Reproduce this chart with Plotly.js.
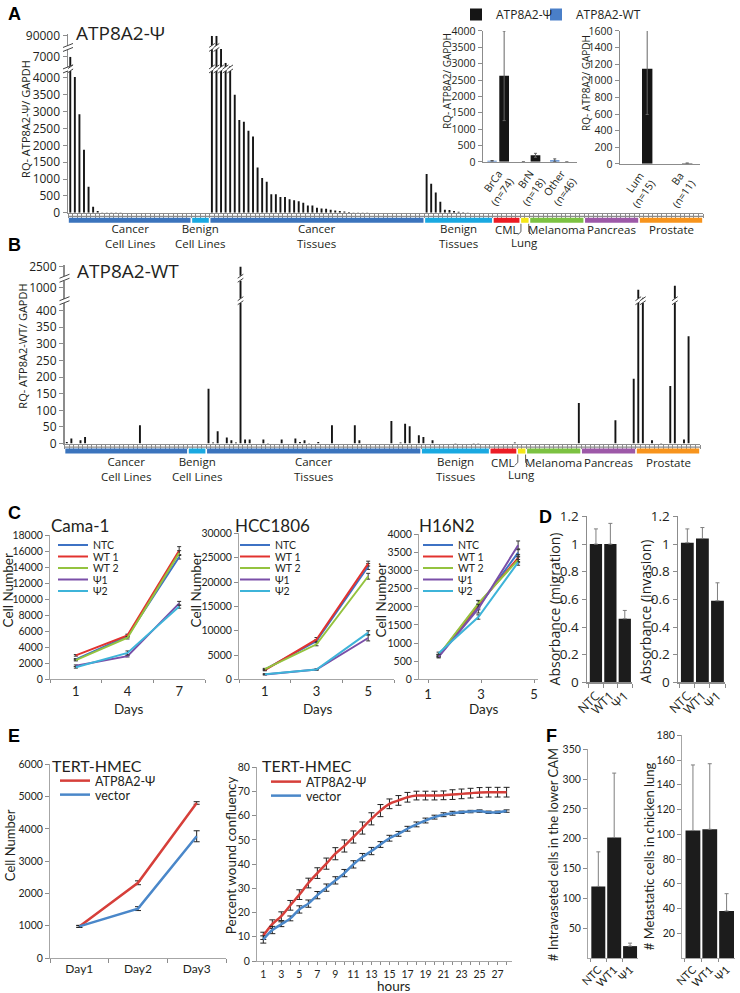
<!DOCTYPE html>
<html><head><meta charset="utf-8">
<script src="https://cdn.plot.ly/plotly-3.0.1.min.js"></script>
<style>html,body{margin:0;padding:0;background:#fff;}#chart{width:740px;height:993px;}</style>
</head><body><div id="chart"></div>
<script>
// ===== Panels A/B : per-sample expression, grouped by sample type =====
const groupNames = ['Cancer<br>Cell Lines','Benign<br>Cell Lines','Cancer<br>Tissues','Benign<br>Tissues','CML','Lung','Melanoma','Pancreas','Prostate'];
const groupColors = ['#3b74bd','#1aa9e1','#3b74bd','#1aa9e1','#ec1c24','#f5e617','#7cc242','#9d59a8','#f7941d'];

// ATP8A2-Psi (panel A)
const psiCancerCellLines = [7000,4030,2920,1870,770,180,50,10,8,6,5,5,4,4,3,3,3,2,2,2,2,2,1,1,1,1,1];
const psiBenignCellLines = [2,1,1,2];
const psiCancerTissues = [90000,90000,8200,6100,5600,3500,2750,2700,2430,2260,1340,1030,920,550,550,465,465,405,375,345,295,215,215,150,130,120,90,70,50,40,20,10,8,5,5,4,3,3,2,2,2,2,1,1,1,1,1];
const psiBenignTissues = [1150,860,600,330,90,80,50,30,15,5,2,1,1,1,1];
const psiCML = [1,1,1,1,1,1];
const psiLung = [1,1];
const psiMelanoma = [1,1,1,1,1,1,1,1,1,1,1,1];
const psiPancreas = [1,1,1,1,1,1,1,1,1,1,1,1];
const psiProstate = [1,1,1,1,1,1,1,1,1,1,1,1,1,1];

// ATP8A2-WT (panel B)
const wtCancerCellLines = [5,15,0,10,20,0,0,0,0,0,0,0,0,0,0,0,55,0,0,0,0,0,0,0,0,0,0];
const wtBenignCellLines = [0,0,0,0];
const wtCancerTissues = [165,3,37,0,18,10,3,2500,12,12,0,0,12,2,0,0,12,0,0,15,5,10,2,0,5,0,0,55,0,0,0,0,55,10,0,0,0,0,0,0,68,0,3,60,52,0,25];
const wtBenignTissues = [20,0,10,0,0,0,0,2,0,0,0,2,2,0,0];
const wtCML = [0,0,0,0,0,3];
const wtLung = [0,0];
const wtMelanoma = [0,0,0,0,0,0,0,0,0,0,0,122];
const wtPancreas = [0,0,0,0,0,0,0,70,0,0,0,195];
const wtProstate = [900,500,0,10,0,2,0,173,1100,0,12,323,0,0];

// Panel A insets
const insetCats1 = ['BrCa<br>(n=74)','BrN<br>(n=18)','Other<br>(n=46)'];
const insetWT1 = [30,0,50];
const insetWT1Err = [10,0,40];
const insetPsi1 = [2630,200,0];
const insetPsi1Err = [1370,60,0];
const insetCats2 = ['Lum<br>(n=15)','Ba<br>(n=11)'];
const insetWT2 = [0,0];
const insetPsi2 = [1145,8];
const insetPsi2Err = [550,0];

// ===== Panel C : growth curves =====
const cNames = ['NTC','WT 1','WT 2','Ψ1','Ψ2'];
const cColors = ['#3d72c4','#e2332f','#94c33f','#7a4fa8','#3eb4d9'];
const camaDays = ['1','4','7'];
const camaNTC = [2500,5400,15300], camaWT1 = [3000,5500,16100], camaWT2 = [2400,5200,15800], camaPsi1 = [1700,2900,9500], camaPsi2 = [1500,3300,9100];
const camaErr = [[100,150,250],[100,150,500],[100,150,300],[100,100,250],[100,250,200]];
const hccDays = ['1','3','5'];
const hccNTC = [2000,7900,23200], hccWT1 = [1900,8200,23800], hccWT2 = [2100,7200,21200], hccPsi1 = [1000,2000,8500], hccPsi2 = [1050,2000,9600];
const hccErr = [[150,300,600],[150,400,500],[150,300,600],[100,100,600],[100,100,400]];
const h16Days = [1.4,2.9,4.4];
const h16NTC = [640,2000,3500], h16WT1 = [650,2070,3350], h16WT2 = [660,2100,3300], h16Psi1 = [620,1950,3700], h16Psi2 = [720,1720,3230];
const h16Err = [[30,80,100],[30,100,100],[30,80,80],[30,120,120],[30,60,80]];

// ===== Panel D : migration / invasion =====
const dCats = ['NTC','WT1','Ψ1'];
const migration = [1.0,1.0,0.46], migrationErr = [0.11,0.15,0.06];
const invasion = [1.01,1.04,0.59], invasionErr = [0.10,0.08,0.13];

// ===== Panel E =====
const eDays = ['Day1','Day2','Day3'];
const e1Psi = [980,2330,4800], e1PsiErr = [30,60,40];
const e1Vec = [980,1530,3770], e1VecErr = [30,60,170];
const hours = [1,2,3,4,5,6,7,8,9,10,11,12,13,14,15,16,17,18,19,20,21,22,23,24,25,26,27,28];
const e2Psi = [10.4,15.2,18.5,23.0,27.4,32.2,36.3,40.2,44.3,47.5,51.2,54.9,58.7,62.1,64.9,66.3,67.6,68.3,68.3,68.3,68.4,68.7,69.0,69.3,69.6,69.7,69.7,69.7];
const e2PsiErr = [1.5,1.8,1.8,2,2,2,2.2,2.3,2.5,2.5,2.5,2.5,2.5,2.5,2,2,2,1.8,1.8,1.8,1.8,2,2,2,2,2,2,2];
const e2Vec = [8.9,12.8,15.2,17.6,21.3,23.7,27.2,30.3,33.3,36.3,39.9,42.9,45.4,48.1,50.7,52.5,54.6,56.4,58.0,59.4,60.4,61.0,61.4,61.7,61.9,61.4,61.4,61.9];
const e2VecErr = [1.5,1.5,1,1,1.5,1.5,1.5,1.5,1.5,1.5,1.5,1.5,1.5,1.2,1.2,1,1,1,1,0.8,0.8,0.8,0.5,0.5,0.5,0.5,0.5,0.5];

// ===== Panel F =====
const fCats = ['NTC','WT1','Ψ1'];
const cam = [120,202,20], camErr = [58,108,5];
const lungMet = [103,104,38], lungMetErr = [53,53,14];

// ---------------------------------------------------------------
const W=740, H=993;
const px = v => v/W, py = v => 1 - v/H;
const X = (a,b) => [a/W, b/W];
const Y = (top,bot) => [1-bot/H, 1-top/H];
const FM = 'Open Sans, Noto Sans, sans-serif';
const FC = 'Lato, Noto Sans, sans-serif';
const TXT = '#231f20';
const GREY = '#8c8c8c';
function axis(o){ return Object.assign({showgrid:false, zeroline:false, showline:true, linecolor:GREY, linewidth:1.5, ticks:'outside', ticklen:4, tickwidth:1, tickcolor:GREY, fixedrange:true, tickfont:{family:FM,size:12,color:TXT}}, o); }
function range(a,b,s){ const r=[]; for(let v=a; v<=b+1e-9; v+=s) r.push(+v.toFixed(6)); return r; }

const psi = [].concat(psiCancerCellLines,psiBenignCellLines,psiCancerTissues,psiBenignTissues,psiCML,psiLung,psiMelanoma,psiPancreas,psiProstate);
const wt = [].concat(wtCancerCellLines,wtBenignCellLines,wtCancerTissues,wtBenignTissues,wtCML,wtLung,wtMelanoma,wtPancreas,wtProstate);
const groupSizes = [psiCancerCellLines,psiBenignCellLines,psiCancerTissues,psiBenignTissues,psiCML,psiLung,psiMelanoma,psiPancreas,psiProstate].map(a=>a.length);
const N = psi.length;
const idx = psi.map((_,i)=>i);

const traces = [];
const shapes = [];
const annotations = [];
const legends = {};
let legCount = 0;
function addLegend(tr, xpx, ypx, font){
  legCount++; const id = legCount===1 ? 'legend' : 'legend'+legCount;
  tr.legend = id; tr.showlegend = true;
  legends[id] = {x:px(xpx), y:py(ypx), xanchor:'left', yanchor:'middle', bgcolor:'rgba(0,0,0,0)', borderwidth:0, font:font, itemwidth:30};
}
function txt(text, x, y, o){ return Object.assign({text, x:px(x), y:py(y), xref:'paper', yref:'paper', showarrow:false, xanchor:'center', yanchor:'middle', font:{family:FM,size:12,color:TXT}}, o||{}); }

function breakMark(xref, xl, xr, yc){
  const g=2, s=2, yb=yc+g, yt=yc-g;
  shapes.push({type:'path', xref, yref:'paper', path:`M${xl},${py(yb+s)} L${xr},${py(yb-s)} L${xr},${py(yt-s)} L${xl},${py(yt+s)} Z`, fillcolor:'white', line:{width:0}, layer:'above'});
  shapes.push({type:'line', xref, yref:'paper', x0:xl, y0:py(yb+s), x1:xr, y1:py(yb-s), line:{color:'#444',width:1}, layer:'above'});
  shapes.push({type:'line', xref, yref:'paper', x0:xl, y0:py(yt+s), x1:xr, y1:py(yt-s), line:{color:'#444',width:1}, layer:'above'});
}

// ---------- Panel A main ----------
['y','y2','y3'].forEach(ya => traces.push({type:'bar', x:idx, y:psi, xaxis:'x', yaxis:ya, width:0.42, marker:{color:'#151515'}, showlegend:false, hoverinfo:'skip'}));
// ---------- Panel B main ----------
['y6','y7','y8'].forEach(ya => traces.push({type:'bar', x:idx, y:wt, xaxis:'x4', yaxis:ya, width:0.42, marker:{color:'#151515'}, showlegend:false, hoverinfo:'skip'}));

// group colour strips + labels
function groupStrip(xref, yTop, yBot, yLab1, yLabLung, ladderY, xl, xr){
  shapes.push({type:'line', xref:'paper', yref:'paper', x0:px(xl), x1:px(xr), y0:py(ladderY), y1:py(ladderY), line:{color:GREY,width:1.2}});
  let start = 0;
  groupSizes.forEach((n,g)=>{
    const s = start, e = start+n-1; start += n;
    shapes.push({type:'rect', xref, yref:'paper', x0:s-0.5+0.18, x1:e+0.5-0.18, y0:py(yBot), y1:py(yTop), fillcolor:groupColors[g], line:{width:0}});
    const name = groupNames[g];
    const two = name.indexOf('<br>')>=0;
    const base = {xref, yref:'paper', showarrow:false, xanchor:'center', yanchor:'middle', font:{family:FM,size:11.5,color:TXT}};
    if (name === 'Lung'){
      annotations.push(Object.assign({text:name, x:(s+e)/2, y:py(yLabLung)}, base));
      const a = s-0.35, b = e+0.35;
      shapes.push({type:'path', xref, yref:'paper', path:`M${a},${py(yBot+1)} L${a},${py(yBot+9)} L${a-0.7},${py(yBot+12)}`, line:{color:'#333',width:0.8}});
      shapes.push({type:'path', xref, yref:'paper', path:`M${b},${py(yBot+1)} L${b},${py(yBot+9)} L${b+0.7},${py(yBot+12)}`, line:{color:'#333',width:0.8}});
    } else {
      annotations.push(Object.assign({text:name, x:(s+e)/2, y:py(two ? (yLab1+yLabLung)/2 : yLab1)}, base));
    }
  });
}
groupStrip('x', 217, 222, 229, 242, 215.5, 68, 703);
groupStrip('x4', 448, 453, 462, 474, 446.5, 64.5, 700);

// break marks on axes and bars
breakMark('paper', px(63), px(73), 68);
breakMark('paper', px(63), px(73), 46.5);
breakMark('paper', px(59.5), px(69.5), 300);
breakMark('paper', px(59.5), px(69.5), 277.5);
psi.forEach((v,i)=>{ if (v>4207) breakMark('x', i-0.62, i+0.62, 68); if (v>8200) breakMark('x', i-0.62, i+0.62, 46.5); });
wt.forEach((v,i)=>{ if (v>424) breakMark('x4', i-0.62, i+0.62, 300); if (v>1350) breakMark('x4', i-0.62, i+0.62, 277.5); });

// ---------- Panel A insets ----------
const tWT1 = {type:'bar', name:'ATP8A2-WT', x:insetCats1, y:insetWT1, xaxis:'x2', yaxis:'y4', width:0.3, offset:-0.36, marker:{color:'#4a7fc8'}, error_y:{type:'data', array:insetWT1Err, color:'#555', thickness:1, width:1.5}, hoverinfo:'skip'};
const tPsi1 = {type:'bar', name:'ATP8A2-Ψ', x:insetCats1, y:insetPsi1, xaxis:'x2', yaxis:'y4', width:0.31, offset:0.02, marker:{color:'#151515'}, error_y:{type:'data', array:insetPsi1Err, color:'#666', thickness:1, width:1.5}, hoverinfo:'skip'};
const tWT2 = {type:'bar', name:'ATP8A2-WT', x:insetCats2, y:insetWT2, xaxis:'x3', yaxis:'y5', width:0.25, offset:-0.3, marker:{color:'#4a7fc8'}, showlegend:false, hoverinfo:'skip'};
const tPsi2 = {type:'bar', name:'ATP8A2-Ψ', x:insetCats2, y:insetPsi2, xaxis:'x3', yaxis:'y5', width:0.26, offset:0.05, marker:{color:'#151515'}, error_y:{type:'data', array:insetPsi2Err, color:'#666', thickness:1, width:1.5}, showlegend:false, hoverinfo:'skip'};
traces.push(tWT1, tPsi1, tWT2, tPsi2);

// ---------- Panel C ----------
function cTrace(xs, ys, err, k, xa, ya){ return {type:'scatter', mode:'lines', x:xs, y:ys, name:cNames[k], xaxis:xa, yaxis:ya, line:{color:cColors[k], width:2}, error_y:{type:'data', array:err, color:'#333', thickness:1, width:2}, hoverinfo:'skip'}; }
const legY = [545,556.5,568,579.5,591];
const cFont = {family:FC, size:10.5, color:TXT};
[camaNTC,camaWT1,camaWT2,camaPsi1,camaPsi2].forEach((ys,k)=>{ const t=cTrace(camaDays, ys, camaErr[k], k, 'x5','y9'); addLegend(t, 53, legY[k], cFont); traces.push(t); });
[hccNTC,hccWT1,hccWT2,hccPsi1,hccPsi2].forEach((ys,k)=>{ const t=cTrace(hccDays, ys, hccErr[k], k, 'x6','y10'); addLegend(t, 235, legY[k], cFont); traces.push(t); });
[h16NTC,h16WT1,h16WT2,h16Psi1,h16Psi2].forEach((ys,k)=>{ const t=cTrace(h16Days, ys, h16Err[k], k, 'x7','y11'); addLegend(t, 418, legY[k], cFont); traces.push(t); });

// ---------- Panel D ----------
const upErr = (arr,c)=>({type:'data', symmetric:false, array:arr, arrayminus:arr.map(()=>0), color:c||'#7f7f7f', thickness:1, width:2});
traces.push({type:'bar', x:dCats, y:migration, xaxis:'x8', yaxis:'y12', width:0.85, marker:{color:'#1c1c1c'}, error_y:upErr(migrationErr), showlegend:false, hoverinfo:'skip'});
traces.push({type:'bar', x:dCats, y:invasion, xaxis:'x9', yaxis:'y13', width:0.85, marker:{color:'#1c1c1c'}, error_y:upErr(invasionErr), showlegend:false, hoverinfo:'skip'});

// ---------- Panel E ----------
const eRed = '#d63f3a', eBlue = '#4a87c9';
const eFont = {family:FC, size:12.5, color:TXT};
let t;
t = {type:'scatter', mode:'lines', name:'ATP8A2-Ψ', x:eDays, y:e1Psi, xaxis:'x10', yaxis:'y14', line:{color:eRed,width:2.5}, error_y:{type:'data', array:e1PsiErr, color:'#222', thickness:1, width:3}, hoverinfo:'skip'}; addLegend(t, 55, 781, eFont); traces.push(t);
t = {type:'scatter', mode:'lines', name:'vector', x:eDays, y:e1Vec, xaxis:'x10', yaxis:'y14', line:{color:eBlue,width:2.5}, error_y:{type:'data', array:e1VecErr, color:'#222', thickness:1, width:3}, hoverinfo:'skip'}; addLegend(t, 55, 795, eFont); traces.push(t);
t = {type:'scatter', mode:'lines', name:'ATP8A2-Ψ', x:hours, y:e2Psi, xaxis:'x11', yaxis:'y15', line:{color:eRed,width:2.5,shape:'spline'}, error_y:{type:'data', array:e2PsiErr, color:'#222', thickness:1, width:3}, hoverinfo:'skip'}; addLegend(t, 266, 782, eFont); traces.push(t);
t = {type:'scatter', mode:'lines', name:'vector', x:hours, y:e2Vec, xaxis:'x11', yaxis:'y15', line:{color:eBlue,width:2.5,shape:'spline'}, error_y:{type:'data', array:e2VecErr, color:'#222', thickness:1, width:3}, hoverinfo:'skip'}; addLegend(t, 266, 796, eFont); traces.push(t);

// ---------- Panel F ----------
traces.push({type:'bar', x:fCats, y:cam, xaxis:'x12', yaxis:'y16', width:0.88, marker:{color:'#1c1c1c'}, error_y:upErr(camErr), showlegend:false, hoverinfo:'skip'});
traces.push({type:'bar', x:fCats, y:lungMet, xaxis:'x13', yaxis:'y17', width:0.88, marker:{color:'#1c1c1c'}, error_y:upErr(lungMetErr), showlegend:false, hoverinfo:'skip'});

// inset legend
const iFont = {family:FM, size:12, color:TXT};
addLegend(tPsi1, 456, 14, iFont);
addLegend(tWT1, 536, 14, iFont);

// ---------- Axes ----------
const yA = {family:FM,size:12,color:TXT};
const cY = {family:FC,size:10.5,color:TXT};
const layout = {
  width:W, height:H, margin:{l:0,r:0,t:0,b:0}, paper_bgcolor:'#fff', plot_bgcolor:'rgba(0,0,0,0)', showlegend:true, barmode:'overlay',
  // A main
  xaxis: axis({domain:X(68,703), range:[-0.5,N-0.5], anchor:'y', tickmode:'linear', tick0:-0.5, dtick:1, showticklabels:false, ticklen:3.5}),
  yaxis: axis({domain:Y(70,212), range:[0,4207], anchor:'x', tickmode:'array', tickvals:range(0,4000,500), tickformat:'d', tickfont:yA}),
  yaxis2: axis({domain:Y(48,66), range:[5500,8200], anchor:'x', tickmode:'array', tickvals:[7000], tickformat:'d', tickfont:yA}),
  yaxis3: axis({domain:Y(33,45), range:[85000,91000], anchor:'x', tickmode:'array', tickvals:[90000], tickformat:'d', tickfont:yA}),
  // A insets
  xaxis2: axis({domain:X(483,577), type:'category', range:[-0.5,2.5], anchor:'y4', tickangle:-55, ticks:'', tickfont:{family:FM,size:10.5,color:TXT}}),
  yaxis4: axis({domain:Y(30,161), range:[0,4000], anchor:'x2', tickmode:'array', tickvals:range(0,4000,500), tickformat:'d', tickfont:{family:FM,size:10.5,color:TXT}}),
  xaxis3: axis({domain:X(620,700), type:'category', range:[-0.5,1.5], anchor:'y5', tickangle:-55, ticks:'', tickfont:{family:FM,size:10.5,color:TXT}}),
  yaxis5: axis({domain:Y(30,163), range:[0,1600], anchor:'x3', tickmode:'array', tickvals:range(0,1600,200), tickformat:'d', tickfont:{family:FM,size:10.5,color:TXT}}),
  // B main
  xaxis4: axis({domain:X(64.5,700), range:[-0.5,N-0.5], anchor:'y6', tickmode:'linear', tick0:-0.5, dtick:1, showticklabels:false, ticklen:3.5}),
  yaxis6: axis({domain:Y(302,443), range:[0,424], anchor:'x4', tickmode:'array', tickvals:range(0,400,50), tickformat:'d', tickfont:yA}),
  yaxis7: axis({domain:Y(280,298), range:[450,1350], anchor:'x4', tickmode:'array', tickvals:[1000], tickformat:'d', tickfont:yA}),
  yaxis8: axis({domain:Y(264,275), range:[2320,2540], anchor:'x4', tickmode:'array', tickvals:[2500], tickformat:'d', tickfont:yA}),
  // C
  xaxis5: axis({domain:X(50,205), type:'category', range:[-0.5,2.5], anchor:'y9', tickson:'boundaries', ticklen:3, linecolor:'#a6a6a6', linewidth:1, tickfont:{family:FC,size:13,color:TXT}}),
  yaxis9: axis({domain:Y(535,679), range:[0,18000], anchor:'x5', dtick:2000, tickformat:'d', linecolor:'#a6a6a6', linewidth:1, tickfont:cY}),
  xaxis6: axis({domain:X(239,394), type:'category', range:[-0.5,2.5], anchor:'y10', tickson:'boundaries', ticklen:3, linecolor:'#a6a6a6', linewidth:1, tickfont:{family:FC,size:13,color:TXT}}),
  yaxis10: axis({domain:Y(533,679), range:[0,30000], anchor:'x6', dtick:5000, tickformat:'d', linecolor:'#a6a6a6', linewidth:1, tickfont:cY}),
  xaxis7: axis({domain:X(419,538), range:[0.66,5.15], anchor:'y11', tickmode:'array', tickvals:[1,3,5], ticklen:3, linecolor:'#a6a6a6', linewidth:1, tickfont:{family:FC,size:13,color:TXT}}),
  yaxis11: axis({domain:Y(534,679), range:[0,4000], anchor:'x7', dtick:500, tickformat:'d', linecolor:'#a6a6a6', linewidth:1, tickfont:cY}),
  // D
  xaxis8: axis({domain:X(587,632), type:'category', range:[-0.62,2.5], anchor:'y12', tickmode:'array', tickvals:dCats, tickson:'boundaries', tickangle:-45, tickfont:{family:FM,size:12.5,color:TXT}}),
  yaxis12: axis({domain:Y(516,682), range:[0,1.2], anchor:'x8', dtick:0.2, tickfont:{family:FM,size:13.5,color:TXT}}),
  xaxis9: axis({domain:X(678,725), type:'category', range:[-0.62,2.5], anchor:'y13', tickmode:'array', tickvals:dCats, tickson:'boundaries', tickangle:-45, tickfont:{family:FM,size:12.5,color:TXT}}),
  yaxis13: axis({domain:Y(516,682), range:[0,1.2], anchor:'x9', dtick:0.2, tickfont:{family:FM,size:13.5,color:TXT}}),
  // E
  xaxis10: axis({domain:X(50,226), type:'category', range:[-0.5,2.5], anchor:'y14', tickson:'boundaries', linecolor:'#a6a6a6', linewidth:1, tickfont:{family:FC,size:12,color:TXT}}),
  yaxis14: axis({domain:Y(764,958), range:[0,6000], anchor:'x10', dtick:1000, tickformat:'d', linecolor:'#a6a6a6', linewidth:1, tickfont:{family:FC,size:10.5,color:TXT}}),
  xaxis11: axis({domain:X(257,512), range:[0.3,28.6], anchor:'y15', tickmode:'array', tickvals:hours, ticktext:hours.map(h=>h%2?String(h):''), ticklen:3, linecolor:'#a6a6a6', linewidth:1, tickfont:{family:FC,size:10.5,color:TXT}}),
  yaxis15: axis({domain:Y(767,961), range:[0,80], anchor:'x11', dtick:10, linecolor:'#a6a6a6', linewidth:1, tickfont:{family:FC,size:10.5,color:TXT}}),
  // F
  xaxis12: axis({domain:X(588,638), type:'category', range:[-0.65,2.5], anchor:'y16', tickmode:'array', tickvals:fCats, tickson:'boundaries', tickangle:-45, ticklen:3, linecolor:'#a6a6a6', linewidth:1, tickfont:{family:FC,size:11,color:TXT}}),
  yaxis16: axis({domain:Y(749,958), range:[0,350], anchor:'x12', tickmode:'array', tickvals:range(50,350,50), linecolor:'#a6a6a6', linewidth:1, tickfont:{family:FC,size:10.5,color:TXT}}),
  xaxis13: axis({domain:X(682,735), type:'category', range:[-0.65,2.5], anchor:'y17', tickmode:'array', tickvals:fCats, tickson:'boundaries', tickangle:-45, ticklen:3, linecolor:'#a6a6a6', linewidth:1, tickfont:{family:FC,size:11,color:TXT}}),
  yaxis17: axis({domain:Y(735,958), range:[0,180], anchor:'x13', tickmode:'array', tickvals:range(20,180,20), linecolor:'#a6a6a6', linewidth:1, tickfont:{family:FC,size:10.5,color:TXT}}),
};
Object.assign(layout, legends);

// ---------- Text ----------
const LF = {family:'Liberation Sans, Arial, sans-serif', size:18, color:'#000'};
[['A',14,13],['B',14,244],['C',14,513],['D',545,517],['E',14,736],['F',551,736]].forEach(([l,x,y])=>annotations.push(txt('<b>'+l+'</b>',x,y,{font:LF})));
annotations.push(txt('ATP8A2-Ψ',120,32,{font:{family:FM,size:19,color:TXT}}));
annotations.push(txt('ATP8A2-WT',128,270,{font:{family:FM,size:19,color:TXT}}));
annotations.push(txt('RQ- ATP8A2-Ψ/ GAPDH',26,118,{textangle:-90,font:{family:FM,size:11,color:TXT}}));
annotations.push(txt('RQ- ATP8A2-WT/ GAPDH',23,346,{textangle:-90,font:{family:FM,size:11,color:TXT}}));
annotations.push(txt('RQ- ATP8A2/ GAPDH',447,80,{textangle:-90,font:{family:FM,size:10,color:TXT}}));
annotations.push(txt('RQ- ATP8A2/ GAPDH',586,82,{textangle:-90,font:{family:FM,size:10,color:TXT}}));
annotations.push(txt('Cama-1',80,525,{font:{family:FC,size:17,color:TXT}}));
annotations.push(txt('HCC1806',272,525,{font:{family:FC,size:17,color:TXT}}));
annotations.push(txt('H16N2',447,525,{font:{family:FC,size:17,color:TXT}}));
[[8,590],[196,590],[381,600]].forEach(([x,y])=>annotations.push(txt('Cell Number',x,y,{textangle:-90,font:{family:FC,size:13.5,color:TXT}})));
[[128,709],[317,709],[483,709]].forEach(([x,y])=>annotations.push(txt('Days',x,y,{font:{family:FC,size:13.5,color:TXT}})));
annotations.push(txt('Absorbance (migration)',554,609,{textangle:-90,font:{family:FM,size:14,color:TXT}}));
annotations.push(txt('Absorbance (invasion)',645,611,{textangle:-90,font:{family:FM,size:14,color:TXT}}));
annotations.push(txt('TERT-HMEC',97,765,{font:{family:FC,size:16,color:TXT}}));
annotations.push(txt('TERT-HMEC',307,765,{font:{family:FC,size:16,color:TXT}}));
annotations.push(txt('Cell Number',10,845,{textangle:-90,font:{family:FC,size:13,color:TXT}}));
annotations.push(txt('Percent wound confluency',231,855,{textangle:-90,font:{family:FC,size:13.5,color:TXT}}));
annotations.push(txt('hours',394,986,{font:{family:FC,size:13.5,color:TXT}}));
annotations.push(txt('# Intravaseted cells in the lower CAM',553,855,{textangle:-90,font:{family:FC,size:13,color:TXT}}));
annotations.push(txt('# Metastatic cells in chicken lung',649,856,{textangle:-90,font:{family:FC,size:13,color:TXT}}));

layout.shapes = shapes;
layout.annotations = annotations;
Plotly.newPlot('chart', traces, layout, {staticPlot:true, displayModeBar:false});
</script></body></html>
